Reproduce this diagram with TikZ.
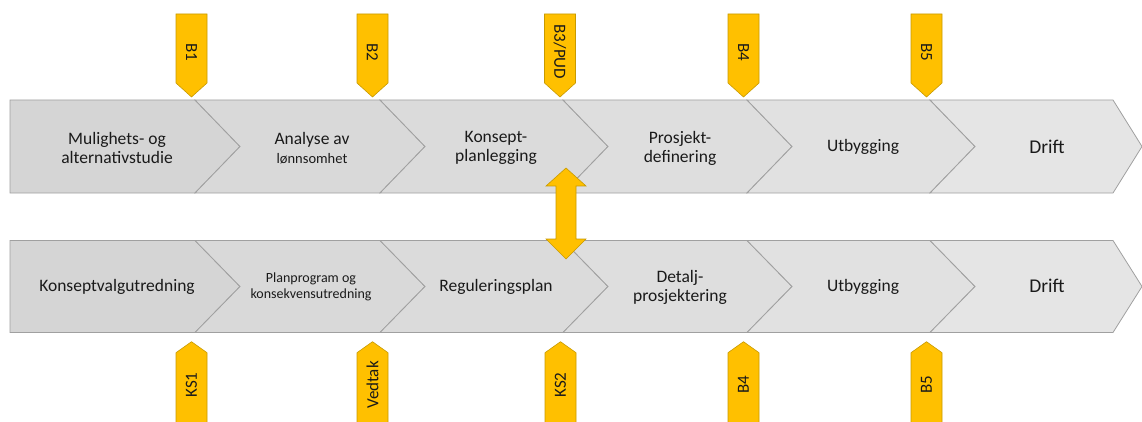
\documentclass[tikz,border=0pt]{standalone}
\usepackage{fontspec}
\setmainfont{Carlito}
\definecolor{gold}{HTML}{FFC000}
\definecolor{golddark}{HTML}{C89A00}
\definecolor{chevline}{HTML}{A0A0A0}
\definecolor{txt}{HTML}{1A1A1A}
\definecolor{cA}{HTML}{D5D5D5}
\definecolor{cB}{HTML}{D9D9D9}
\definecolor{cC}{HTML}{DBDBDB}
\definecolor{cD}{HTML}{DEDEDE}
\definecolor{cE}{HTML}{E1E1E1}
\definecolor{cF}{HTML}{E5E5E5}
\begin{document}
\begin{tikzpicture}[x=1pt,y=-1pt,
  chev/.style={draw=chevline, line width=0.8pt, line join=miter},
  marker/.style={fill=gold, draw=golddark, line width=0.6pt},
  lbl/.style={font=\fontsize{17.5}{19}\selectfont, text=txt, align=center, inner sep=0pt},
  smalllbl/.style={font=\fontsize{14}{16.5}\selectfont, text=txt, align=center, inner sep=0pt},
  mlbl/.style={font=\fontsize{17}{19}\selectfont, text=txt, inner sep=0pt},
]
\useasboundingbox (0,0) rectangle (1142,422);
\clip (0,0) rectangle (1142,422);

% chevron rows
\foreach \y/\h in {100/93, 240.5/92}{
  \pgfmathsetmacro{\m}{\y+\h/2}
  \pgfmathsetmacro{\bt}{\y+\h}
  \draw[chev, fill=cA] (10,\y) -- (195,\y) -- (240,\m) -- (195,\bt) -- (10,\bt) -- cycle;
  \foreach \a/\b/\c in {195/380/cB, 380/563/cC, 563/747/cD, 747/930/cE}{
    \draw[chev, fill=\c] (\a,\y) -- (\b,\y) -- ({\b+45},\m) -- (\b,\bt) -- (\a,\bt) -- ({\a+45},\m) -- cycle;
  }
  \draw[chev, fill=cF] (930,\y) -- (1113,\y) -- (1142,\m) -- (1113,\bt) -- (930,\bt) -- (975,\m) -- cycle;
}

% top row labels
\node[lbl] (t1) at (117,148) {Mulighets- og\\alternativstudie};
\node[lbl] (t2) at (312,148) {Analyse av\\{\fontsize{14.5}{16}\selectfont lønnsomhet}};
\node[lbl] (t3) at (496,148) {Konsept-\\planlegging};
\node[lbl] (t4) at (680,148) {Prosjekt-\\definering};
\node[lbl] (t5) at (863,147) {Utbygging};
\node[lbl, font=\fontsize{19.5}{21}\selectfont] (t6) at (1047,147) {Drift};

% bottom row labels
\node[lbl] (b1) at (117,287) {Konseptvalgutredning};
\node[smalllbl] (b2) at (311,287) {Planprogram og\\konsekvensutredning};
\node[lbl] (b3) at (496,287) {Reguleringsplan};
\node[lbl] (b4) at (680,287) {Detalj-\\prosjektering};
\node[lbl] (b5) at (863,287) {Utbygging};
\node[lbl, font=\fontsize{19.5}{21}\selectfont] (b6) at (1047,286) {Drift};

% top markers
\foreach \cx/\t/\n in {191.5/B1/m1, 372.5/B2/m2, 560/B3\slash PUD/m3, 743.5/B4/m4, 926.5/B5/m5}{
  \draw[marker] ({\cx-15.5},14) -- ({\cx+15.5},14) -- ({\cx+15.5},83) -- (\cx,97) -- ({\cx-15.5},83) -- cycle;
  \node[mlbl, rotate=-90] (\n) at (\cx,52) {\t};
}

% bottom markers
\foreach \cx/\t/\n in {191.5/KS1/k1, 372.5/Vedtak/k2, 560.5/KS2/k3, 743.5/B4/k4, 926.5/B5/k5}{
  \draw[marker] (\cx,341.7) -- ({\cx+15.5},352.7) -- ({\cx+15.5},426) -- ({\cx-15.5},426) -- ({\cx-15.5},352.7) -- cycle;
  \node[mlbl, rotate=90] (\n) at (\cx,385) {\t};
}

% double block arrow between rows
\draw[marker] (566,168) -- (586,186) -- (576,186) -- (576,239) -- (586,239) -- (566,259)
  -- (546,239) -- (556,239) -- (556,186) -- (546,186) -- cycle;
\end{tikzpicture}
\end{document}
